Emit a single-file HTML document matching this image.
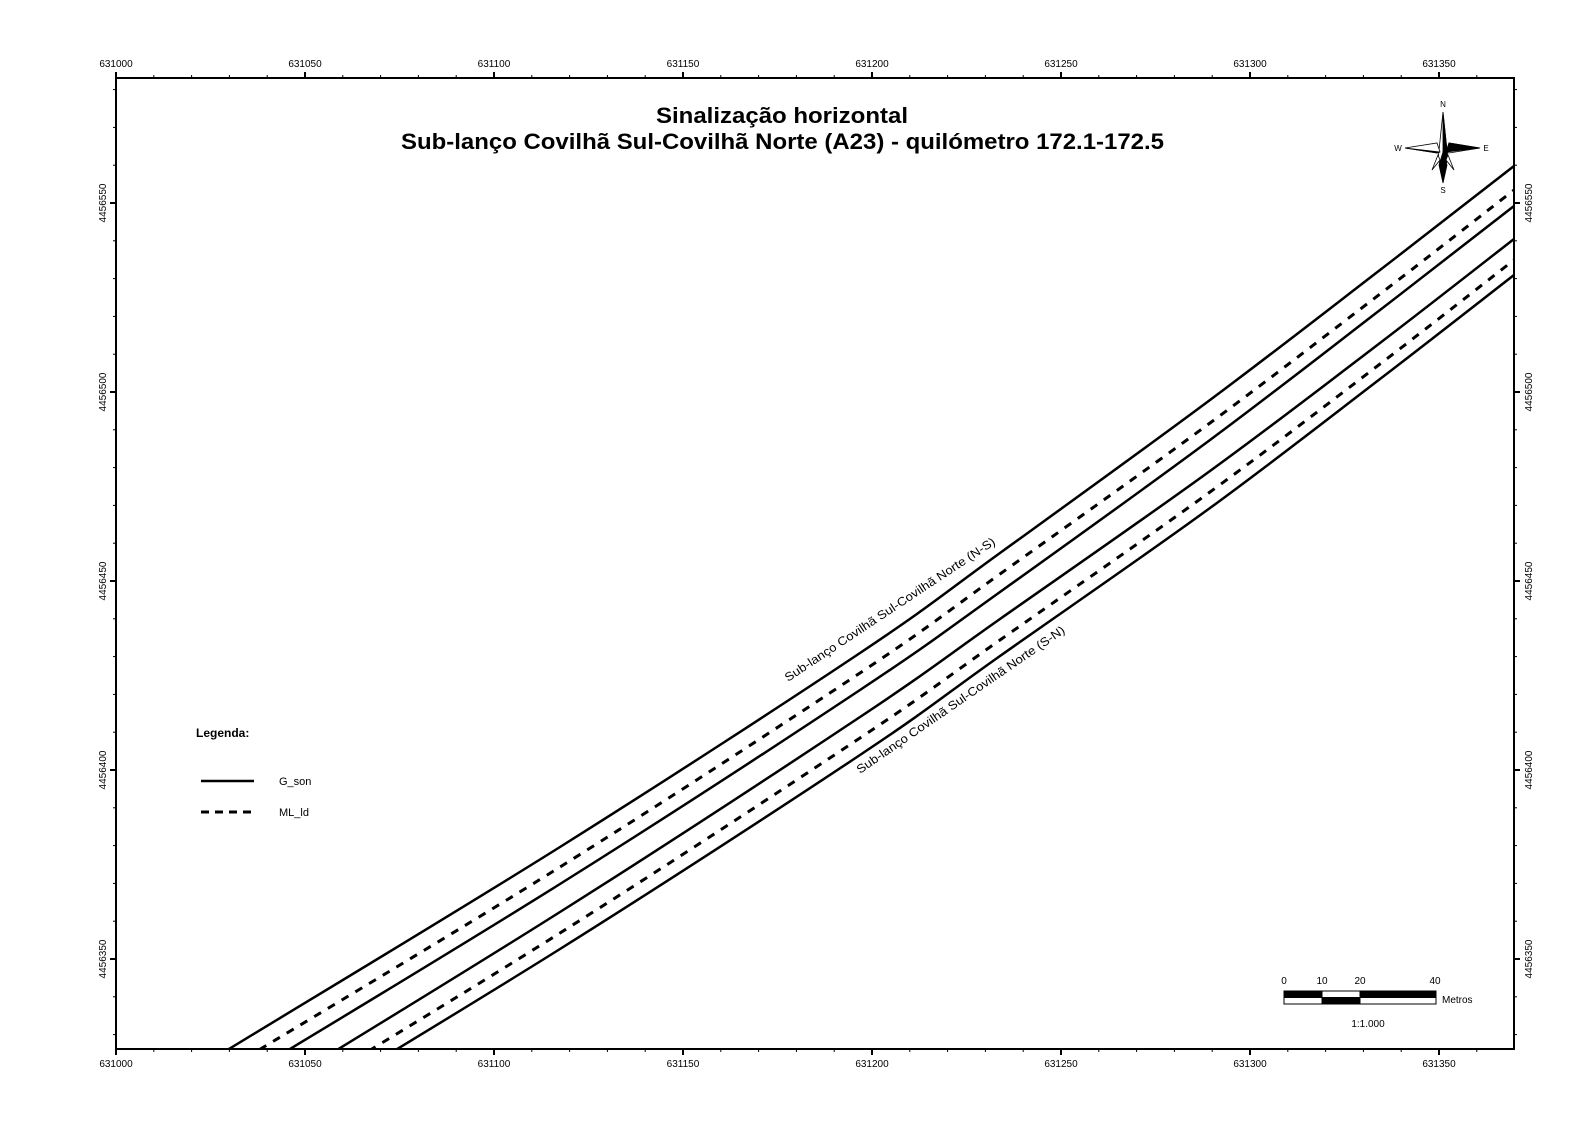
<!DOCTYPE html>
<html><head><meta charset="utf-8"><style>
html,body{margin:0;padding:0;background:#fff;width:1588px;height:1123px;overflow:hidden;}
svg{display:block;font-family:"Liberation Sans",Arial,sans-serif;}
</style></head><body>
<svg id="s" width="1588" height="1123" viewBox="0 0 1588 1123" xmlns="http://www.w3.org/2000/svg">
<defs><clipPath id="c"><rect x="116" y="78" width="1398" height="971"/></clipPath></defs>
<rect x="116" y="78" width="1398" height="971" fill="none" stroke="#000" stroke-width="2"/>
<g id="ticks" stroke="#000"></g>
<g id="roads" clip-path="url(#c)" fill="none" stroke="#000" stroke-linejoin="round"></g>
<g font-size="10" fill="#000" text-anchor="middle">
<text x="116" y="67">631000</text><text x="305" y="67">631050</text><text x="494" y="67">631100</text><text x="683" y="67">631150</text><text x="872" y="67">631200</text><text x="1061" y="67">631250</text><text x="1250" y="67">631300</text><text x="1439" y="67">631350</text>
<text x="116" y="1067">631000</text><text x="305" y="1067">631050</text><text x="494" y="1067">631100</text><text x="683" y="1067">631150</text><text x="872" y="1067">631200</text><text x="1061" y="1067">631250</text><text x="1250" y="1067">631300</text><text x="1439" y="1067">631350</text>
<text transform="translate(106,203) rotate(-90)">4456550</text>
<text transform="translate(106,392) rotate(-90)">4456500</text>
<text transform="translate(106,581) rotate(-90)">4456450</text>
<text transform="translate(106,770) rotate(-90)">4456400</text>
<text transform="translate(106,959) rotate(-90)">4456350</text>
<text transform="translate(1532,203) rotate(-90)">4456550</text>
<text transform="translate(1532,392) rotate(-90)">4456500</text>
<text transform="translate(1532,581) rotate(-90)">4456450</text>
<text transform="translate(1532,770) rotate(-90)">4456400</text>
<text transform="translate(1532,959) rotate(-90)">4456350</text>
</g>
<g font-weight="bold" font-size="22" fill="#000">
<text x="656" y="123" textLength="252" lengthAdjust="spacingAndGlyphs">Sinalização horizontal</text>
<text x="401" y="149" textLength="763" lengthAdjust="spacingAndGlyphs">Sub-lanço Covilhã Sul-Covilhã Norte (A23) - quilómetro 172.1-172.5</text>
</g>
<g font-size="12" fill="#000">
<text transform="translate(788,682) rotate(-33.6)" textLength="250" lengthAdjust="spacingAndGlyphs">Sub-lanço Covilhã Sul-Covilhã Norte (N-S)</text>
<text transform="translate(860,774) rotate(-34.6)" textLength="250" lengthAdjust="spacingAndGlyphs">Sub-lanço Covilhã Sul-Covilhã Norte (S-N)</text>
</g>
<text x="196" y="737" font-size="12" font-weight="bold">Legenda:</text>
<line x1="201" y1="781" x2="254" y2="781" stroke="#000" stroke-width="2.5"/>
<line x1="201" y1="812" x2="254" y2="812" stroke="#000" stroke-width="3" stroke-dasharray="8,6"/>
<text x="279" y="785" font-size="11">G_son</text>
<text x="279" y="816" font-size="11">ML_ld</text>
<g stroke="#000" stroke-width="0.8">
<polygon points="1443,112 1448,160 1443,168 1438,160" fill="#fff"/>
<polygon points="1443,112 1448,160 1443,168" fill="#000"/>
<polygon points="1405,148 1437,143 1440,152 1437,153" fill="#fff"/>
<polygon points="1405,148 1437,153 1440,152" fill="#000"/>
<polygon points="1480,148 1449,143 1446,152 1449,153" fill="#fff"/>
<polygon points="1480,148 1449,143 1446,152" fill="#000"/>
<polygon points="1443,152 1447,165 1443,183 1439,165" fill="#000"/>
<polygon points="1438,155 1432,170 1440,160" fill="#fff"/>
<polygon points="1448,155 1454,170 1446,160" fill="#fff"/>
</g>
<g font-size="8" text-anchor="middle">
<text x="1443" y="107">N</text><text x="1443" y="193">S</text><text x="1398" y="151">W</text><text x="1486" y="151">E</text>
</g>
<g stroke="#000" stroke-width="1">
<rect x="1284" y="991" width="152" height="13" fill="#fff"/>
<rect x="1284" y="991" width="38" height="6.5" fill="#000"/>
<rect x="1322" y="997.5" width="38" height="6.5" fill="#000"/>
<rect x="1360" y="991" width="76" height="6.5" fill="#000"/>
</g>
<g font-size="10" text-anchor="middle">
<text x="1284" y="984">0</text><text x="1322" y="984">10</text><text x="1360" y="984">20</text><text x="1435" y="984">40</text>
<text x="1368" y="1027">1:1.000</text>
</g>
<text x="1442" y="1003" font-size="10">Metros</text>
</svg>
<script>
var NS="http://www.w3.org/2000/svg";
var t=document.getElementById("ticks");
function ln(x1,y1,x2,y2,w){var l=document.createElementNS(NS,"line");l.setAttribute("x1",x1);l.setAttribute("y1",y1);l.setAttribute("x2",x2);l.setAttribute("y2",y2);l.setAttribute("stroke-width",w);t.appendChild(l);}
var s=3.78;
for(var i=0;i<=37;i++){var x=116+i*s*10;if(x>1514)break;var maj=(i%5==0);var L=maj?6:3;ln(x,78,x,78-L,maj?2:1);ln(x,1049,x,1049+L,maj?2:1);}
for(var k=-12;k<=30;k++){var y=203+k*s*10;if(y<78||y>1049)continue;var maj=(((k%5)+5)%5==0);var L=maj?6:3;ln(116,y,116-L,y,maj?2:1);ln(1514,y,1514+L,y,maj?2:1);}
var P=[[150,1097],[229,1049],[560,847],[860,653],[1000,553],[1210,400],[1380,270],[1514,166],[1560,130]];
var O=[[0,0,0,0,0,0,0,0,0],[19,19,20,20,21,23,24,24,24],[37,37,37,37,39,40,40,40,40],[67,67,65,64,66,71,73,73,73],[87,87,86,85,87,92,94,94,94],[102,102,102,102,103,108,109,109,109]];
var dashed=[false,true,false,false,true,false];
var g=document.getElementById("roads");
for(var j=0;j<6;j++){
 var Q=P.map(function(p,i){return [p[0],p[1]+O[j][i]];});
 var d="M"+Q[0][0]+","+Q[0][1];
 for(var i=0;i<Q.length-1;i++){
  var p0=Q[Math.max(i-1,0)],p1=Q[i],p2=Q[i+1],p3=Q[Math.min(i+2,Q.length-1)];
  var c1=[p1[0]+(p2[0]-p0[0])/6,p1[1]+(p2[1]-p0[1])/6];
  var c2=[p2[0]-(p3[0]-p1[0])/6,p2[1]-(p3[1]-p1[1])/6];
  d+="C"+c1[0].toFixed(1)+","+c1[1].toFixed(1)+" "+c2[0].toFixed(1)+","+c2[1].toFixed(1)+" "+p2[0]+","+p2[1];
 }
 var p=document.createElementNS(NS,"path");p.setAttribute("d",d);
 if(dashed[j]){p.setAttribute("stroke-width","3");p.setAttribute("stroke-dasharray","8,8");}else p.setAttribute("stroke-width","2.5");
 g.appendChild(p);}
</script>
</body></html>
